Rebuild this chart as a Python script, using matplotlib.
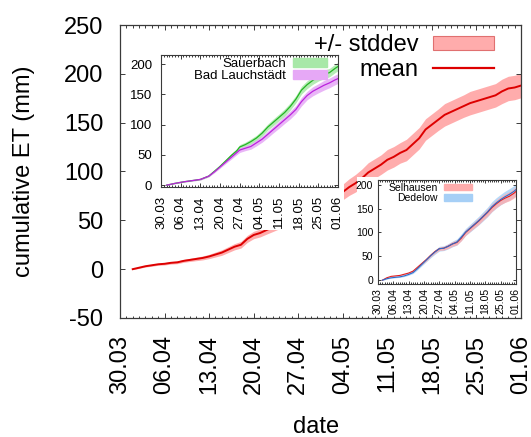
import numpy as np
import matplotlib as mpl
import matplotlib.pyplot as plt
import matplotlib.dates as mdates
import matplotlib.patches as mpatches
from matplotlib.ticker import MultipleLocator, FixedLocator

mpl.use('Agg')
plt.rcParams['font.family'] = ['Liberation Sans', 'DejaVu Sans']
plt.rcParams['axes.unicode_minus'] = False

# days counted from 30.03
start = np.datetime64('2019-03-30')

# mean of all sites
dias_media = [2, 3, 4, 5, 6, 7, 8, 9, 10, 11, 12, 13, 14, 15, 16, 17, 18, 19, 20, 21, 22, 23,
              24, 26, 28, 30, 32, 34, 35, 36, 37, 38, 39, 40, 41, 42, 43, 44, 45, 46, 47, 48,
              49, 50, 51, 52, 53, 54, 55, 56, 57, 58, 59, 60, 61, 62, 63]
et_media = [0, 1.5, 3, 4, 5, 5.5, 6.5, 7, 8.5, 9.5, 10.5, 11.5, 13, 15, 17, 20, 23, 25, 31, 35, 37, 40,
            43, 49, 56, 63, 70, 76, 79, 84, 88, 93, 99, 103, 107, 112, 115, 119, 122, 128, 134, 143,
            148, 153, 158, 161, 164, 167, 170, 172, 174, 176, 178, 182, 185, 186, 188]
sd_media = [0.5, 0.7, 0.8, 1, 1, 1.2, 1.3, 1.4, 1.5, 1.6, 1.8, 2, 2.2, 2.5, 2.8, 3, 3.2, 3.4, 3.6, 3.8, 4, 4.2,
            4.5, 5, 5.5, 6, 7, 7.5, 8, 8.5, 9, 9.5, 10, 10, 10, 10.5, 10.5, 10.5, 11, 11, 11, 11,
            11, 11, 11.5, 11.5, 11.5, 11.5, 12, 12, 12, 12, 12, 12.5, 12.5, 12.5, 12.5]

# Sauerbach / Bad Lauchstaedt
dias_1 = [2, 5, 8, 11, 14, 17, 19, 21, 23, 25, 27, 28, 30, 32, 34, 36, 38, 40, 42, 44, 46, 48,
          50, 52, 54, 56, 58, 60, 62, 63]
et_sauerbach = [0, 3, 5.5, 7.5, 9.5, 15, 23, 31, 40, 49, 57, 63, 67, 72, 78, 86, 96, 104, 112, 120, 130, 142,
                157, 166, 173, 179, 183, 186, 193, 196]
sd_sauerbach = [0.3, 0.5, 0.6, 0.8, 1, 1.2, 1.5, 2, 2.5, 3, 3.5, 4, 4, 4.5, 4.5, 5, 5, 5.5, 5.5, 6, 6, 6,
                6.5, 6.5, 6.5, 7, 7, 7, 7, 7]
et_lauchstaedt = [0, 3, 5.5, 7.5, 9.5, 15, 22, 30, 38, 46, 54, 58, 61, 64, 70, 76, 84, 92, 100, 108, 116, 125,
                  138, 148, 155, 160, 165, 169, 174, 176]
sd_lauchstaedt = [0.3, 0.5, 0.6, 0.8, 1, 1.2, 1.5, 2, 2.5, 3, 3.5, 4, 4, 4.5, 5, 5, 5.5, 5.5, 6, 6, 6.5, 6.5,
                  7, 7, 7.5, 7.5, 8, 8, 8, 8]

# Selhausen / Dedelow
dias_2 = [2, 4, 6, 8, 10, 12, 14, 16, 18, 20, 22, 24, 26, 28, 30, 32, 34, 36, 38, 40, 42, 44,
          46, 48, 50, 52, 54, 56, 58, 60, 62, 63]
et_selhausen = [0, 5, 8, 9, 10, 12.5, 15, 19, 27, 35, 43, 52, 60, 66, 67, 71, 76, 79, 88, 100, 108, 116,
                124, 133, 142, 152, 160, 167, 172, 176, 182, 186]
sd_selhausen = [0.3, 0.5, 0.6, 0.7, 0.8, 1, 1.2, 1.5, 2, 2.5, 3, 3, 3.5, 3.5, 4, 4.5, 5, 5, 5.5, 6, 6, 6.5,
                7, 7, 7.5, 8, 8, 8.5, 9, 9.5, 10, 10]
et_dedelow = [0, 3, 5, 6, 7, 9, 12, 16, 24, 33, 42, 51, 59, 66, 67, 71, 76, 80, 90, 101, 109, 117,
              125, 134, 143, 154, 162, 169, 175, 180, 186, 190]
sd_dedelow = [0.5, 0.7, 0.8, 1, 1.2, 1.4, 1.6, 2, 2.5, 3, 3.5, 4, 4.5, 5, 5, 5.5, 6, 6.5, 7, 7.5, 8, 8.5,
              9, 9.5, 10, 10.5, 11, 11, 11.5, 12, 12, 12]

vermelho, banda_vermelha = '#dd0000', '#ffacac'
verde, banda_verde = '#22b422', '#a8e8a8'
roxo, banda_roxa = '#bb22dd', '#e6a8f6'
azul, banda_azul = '#2a6ccc', '#a6cff6'
cor_moldura = '#3a3a3a'

W, H = 531, 437


def datas(dias):
    return start + np.array(dias, dtype='timedelta64[D]')


def caixa(x0, y0, x1, y1):
    # pixel box (top-left origin) -> figure fraction rect
    return [x0 / W, 1 - y1 / H, (x1 - x0) / W, (y1 - y0) / H]


def prepara_eixo(ax, fs, maj, mino, pad_x, pad_y, lw=0.9):
    for s in ax.spines.values():
        s.set_color(cor_moldura)
        s.set_linewidth(lw)
    ax.set_xlim(start, start + np.timedelta64(63, 'D'))
    ax.xaxis.set_major_locator(FixedLocator(mdates.date2num(datas(list(range(0, 64, 7))))))
    ax.xaxis.set_minor_locator(FixedLocator(mdates.date2num(datas(list(range(0, 64))))))
    ax.xaxis.set_major_formatter(mdates.DateFormatter('%d.%m'))
    ax.tick_params(which='both', direction='in', top=True, right=True, colors=cor_moldura,
                   labelcolor='black', labelsize=fs, width=0.7)
    ax.tick_params(which='major', length=maj)
    ax.tick_params(which='minor', length=mino)
    ax.tick_params(axis='x', pad=pad_x, labelrotation=90)
    ax.tick_params(axis='y', pad=pad_y)


fig = plt.figure(figsize=(W / 100, H / 100), dpi=100)

# main plot
ax = fig.add_axes(caixa(120, 25, 521, 318))
ax.set_zorder(0)
prepara_eixo(ax, 17, 3.8, 1.8, 12, 12)
ax.set_ylim(-50, 250)
ax.yaxis.set_major_locator(MultipleLocator(50))
m = np.array(et_media)
s = np.array(sd_media)
ax.fill_between(datas(dias_media), m - s, m + s, color=banda_vermelha, lw=0)
ax.plot(datas(dias_media), m, color=vermelho, lw=1.4)
ax.set_ylabel('cumulative ET (mm)', fontsize=17)
ax.set_xlabel('date', fontsize=17)
ax.yaxis.set_label_coords(-0.212, 0.5)
ax.xaxis.set_label_coords(0.49, -0.335)

handles = [mpatches.Patch(facecolor=banda_vermelha, edgecolor='#e07070', lw=0.8),
           mpl.lines.Line2D([], [], color=vermelho, lw=1.6)]
ax.legend(handles, ['+/- stddev', 'mean'], loc='upper right', bbox_to_anchor=(0.933, 0.968),
          frameon=False, markerfirst=False, fontsize=17, handlelength=2.6, handleheight=0.55,
          handletextpad=0.6, labelspacing=0.09, borderpad=0, borderaxespad=0)

# white ground behind the insets and their labels
for x0, y0, x1, y1 in [(126, 52, 344, 230), (357, 177, 517, 315)]:
    fig.add_artist(mpatches.Rectangle((x0 / W, 1 - y1 / H), (x1 - x0) / W, (y1 - y0) / H,
                                      transform=fig.transFigure, facecolor='white',
                                      edgecolor='none', zorder=0.5))

# inset: Sauerbach / Bad Lauchstaedt
ax1 = fig.add_axes(caixa(161, 55, 338, 187))
ax1.set_zorder(1)
prepara_eixo(ax1, 9.5, 2.8, 1.4, 6.5, 6.5, lw=0.8)
ax1.set_ylim(-3, 215)
ax1.yaxis.set_major_locator(MultipleLocator(50))
for et, sd, c, cb in [(et_sauerbach, sd_sauerbach, verde, banda_verde),
                      (et_lauchstaedt, sd_lauchstaedt, roxo, banda_roxa)]:
    e, d = np.array(et), np.array(sd)
    ax1.fill_between(datas(dias_1), e - d, e + d, color=cb, lw=0, alpha=0.85)
for et, c in [(et_sauerbach, verde), (et_lauchstaedt, roxo)]:
    ax1.plot(datas(dias_1), et, color=c, lw=0.9)
ax1.legend([mpatches.Patch(color=banda_verde), mpatches.Patch(color=banda_roxa)],
           ['Sauerbach', 'Bad Lauchstädt'], loc='upper right', bbox_to_anchor=(0.938, 0.975),
           frameon=False, markerfirst=False, fontsize=9.5, handlelength=2.6, handleheight=0.6,
           handletextpad=0.5, labelspacing=0.0, borderpad=0, borderaxespad=0)

# inset: Selhausen / Dedelow
ax2 = fig.add_axes(caixa(378, 180, 516, 284))
ax2.set_zorder(1)
prepara_eixo(ax2, 7.5, 2.4, 1.2, 3, 3.5, lw=0.8)
ax2.set_ylim(-8, 210)
ax2.yaxis.set_major_locator(MultipleLocator(50))
for et, sd, c, cb in [(et_dedelow, sd_dedelow, azul, banda_azul),
                      (et_selhausen, sd_selhausen, vermelho, banda_vermelha)]:
    e, d = np.array(et), np.array(sd)
    ax2.fill_between(datas(dias_2), e - d, e + d, color=cb, lw=0, alpha=0.8)
for et, c in [(et_selhausen, '#e02020'), (et_dedelow, azul)]:
    ax2.plot(datas(dias_2), et, color=c, lw=0.8)
ax2.legend([mpatches.Patch(color=banda_vermelha), mpatches.Patch(color=banda_azul)],
           ['Selhausen', 'Dedelow'], loc='upper right', bbox_to_anchor=(0.681, 0.975),
           frameon=False, markerfirst=False, fontsize=7.5, handlelength=2.7, handleheight=0.6,
           handletextpad=0.55, labelspacing=0.05, borderpad=0, borderaxespad=0)

plt.savefig('out.png', dpi=100)
